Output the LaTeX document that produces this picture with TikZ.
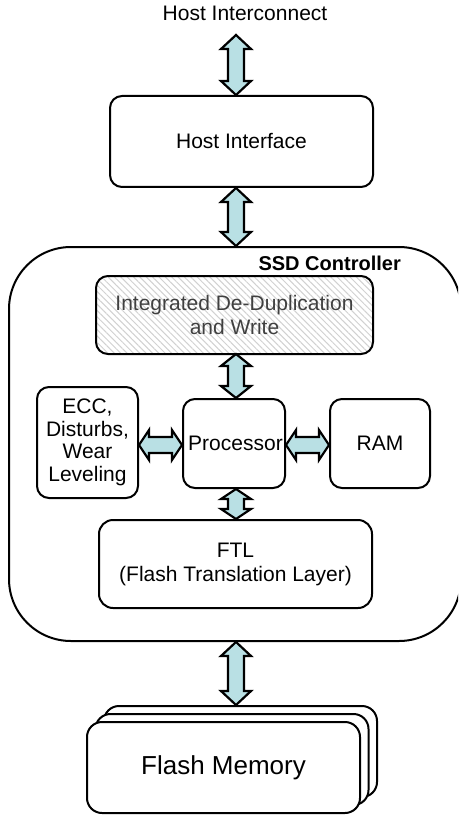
\documentclass[tikz,border=0pt]{standalone}
\usepackage{fontspec}
\setmainfont{Liberation Sans}
\usetikzlibrary{calc,patterns.meta}
\definecolor{arrowfill}{RGB}{185,224,228}
\tikzset{
  box/.style={draw=black, line width=2pt, rounded corners=12pt, fill=white, inner sep=0pt, align=center,
    font=\fontsize{21}{24}\selectfont},
  fat/.style={draw=black, line width=2.2pt, fill=arrowfill, line join=miter, miter limit=10},
  lbl/.style={inner sep=0pt, font=\fontsize{21}{24}\selectfont, align=center}
}
% vertical fat double arrow: #1 x-coordinate, #2 top point, #3 bottom point, #4 head length
\newcommand\vfatarrow[4]{%
  \path let \p0=(#1), \p1=(#2), \p2=(#3) in
   [fat] (\x0,\y1) -- (\x0+15pt,\y1-#4) -- (\x0+8pt,\y1-#4) -- (\x0+8pt,\y2+#4)
     -- (\x0+15pt,\y2+#4) -- (\x0,\y2) -- (\x0-15pt,\y2+#4) -- (\x0-8pt,\y2+#4)
     -- (\x0-8pt,\y1-#4) -- (\x0-15pt,\y1-#4) -- cycle;}
% horizontal fat double arrow: #1 y-coordinate, #2 left point, #3 right point, #4 head length
\newcommand\hfatarrow[4]{%
  \path let \p0=(#1), \p1=(#2), \p2=(#3) in
   [fat] (\x1,\y0) -- (\x1+#4,\y0+15pt) -- (\x1+#4,\y0+8pt) -- (\x2-#4,\y0+8pt)
     -- (\x2-#4,\y0+15pt) -- (\x2,\y0) -- (\x2-#4,\y0-15pt) -- (\x2-#4,\y0-8pt)
     -- (\x1+#4,\y0-8pt) -- (\x1+#4,\y0-15pt) -- cycle;}
\begin{document}
\begin{tikzpicture}[x=1pt,y=-1pt]
\clip (0,0) rectangle (458,818);
\fill[white] (0,0) rectangle (458,818);

% top label
\node[lbl] (hic) at (245,13) {Host Interconnect};
\coordinate (a1top) at (236,35);
\coordinate (ax) at (236,0);

% host interface
\node[box, minimum width=263pt, minimum height=91pt] (hif) at (241.5,141.5) {Host Interface};

% SSD controller
\node[draw=black, line width=2pt, rounded corners=62pt, minimum width=452pt, minimum height=394pt, inner sep=0pt] (ctl) at (235,444) {};
\node[inner sep=0pt, anchor=east, font=\fontsize{20}{24}\selectfont\bfseries] (ctltxt) at (401,263) {SSD Controller};

% de-dup
\node[box, draw=none, minimum width=275pt, minimum height=76pt,
  postaction={pattern={Lines[angle=-45,distance=4.5pt,line width=1pt]}, pattern color=black!18}] (dd) at (234.5,315) {};
\draw[line width=2pt, rounded corners=12pt] (dd.north west) rectangle (dd.south east);
\node[lbl, text=black!75] (ddtxt) at (234.5,315) {Integrated De-Duplication\\and Write};

% row
\node[box, minimum width=101pt, minimum height=111pt, font=\fontsize{21}{22.5}\selectfont] (ecc) at (87.5,442.5) {ECC,\\Disturbs,\\Wear\\Leveling};
\node[box, minimum width=102pt, minimum height=89pt] (proc) at (234,443.5) {\hspace*{3pt}Processor};
\node[box, minimum width=100pt, minimum height=89pt] (ram) at (380,443.5) {RAM};

% FTL
\node[box, minimum width=273pt, minimum height=88pt, rounded corners=14pt] (ftl) at (235.5,564) {FTL\\(Flash Translation Layer)};

% flash memory stack
\node[box, minimum width=273pt, minimum height=91pt, rounded corners=15pt] (fm3) at (240.5,751.5) {};
\node[box, minimum width=273pt, minimum height=91pt, rounded corners=15pt] (fm2) at (232,759.5) {};
\node[box, minimum width=273pt, minimum height=91pt, rounded corners=15pt, font=\fontsize{26}{30}\selectfont] (fm1) at (223.5,767.5) {Flash Memory};

% arrows
\vfatarrow{ax}{a1top}{hif.north}{14pt}
\vfatarrow{ax}{hif.south}{ctl.north}{14pt}
\vfatarrow{ax}{dd.south}{proc.north}{12pt}
\vfatarrow{ax}{proc.south}{ftl.north}{10pt}
\vfatarrow{ax}{ctl.south}{fm3.north}{14pt}
\coordinate (ay) at (0,445);
\hfatarrow{ay}{ecc.east}{proc.west}{10pt}
\hfatarrow{ay}{proc.east}{ram.west}{10pt}
\end{tikzpicture}
\end{document}
